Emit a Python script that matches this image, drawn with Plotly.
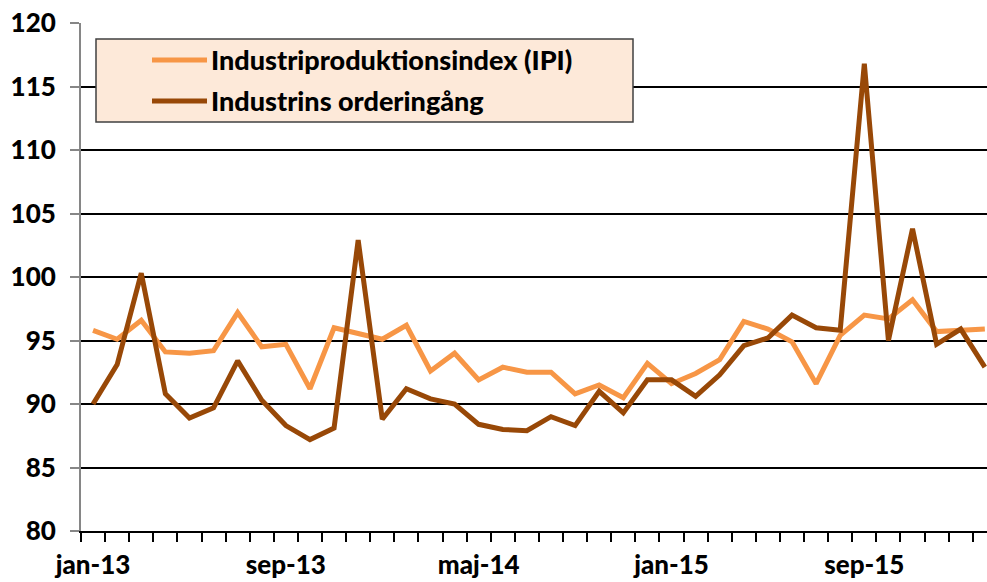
import plotly.graph_objects as go

months = [
    "jan-13", "feb-13", "mar-13", "apr-13", "maj-13", "jun-13", "jul-13", "aug-13", "sep-13", "okt-13", "nov-13", "dec-13",
    "jan-14", "feb-14", "mar-14", "apr-14", "maj-14", "jun-14", "jul-14", "aug-14", "sep-14", "okt-14", "nov-14", "dec-14",
    "jan-15", "feb-15", "mar-15", "apr-15", "maj-15", "jun-15", "jul-15", "aug-15", "sep-15", "okt-15", "nov-15", "dec-15",
    "jan-16", "feb-16",
]
shown_labels = ["jan-13", "sep-13", "maj-14", "jan-15", "sep-15"]

ipi = [
    95.8, 95.1, 96.6, 94.1, 94.0, 94.2, 97.2, 94.5, 94.7, 91.2, 96.0, 95.6,
    95.1, 96.2, 92.6, 94.0, 91.9, 92.9, 92.5, 92.5, 90.8, 91.5, 90.5, 93.2,
    91.6, 92.4, 93.5, 96.5, 95.9, 94.9, 91.6, 95.4, 97.0, 96.7, 98.2, 95.7,
    95.8, 95.9,
]
orders = [
    90.0, 93.1, 100.3, 90.8, 88.9, 89.7, 93.4, 90.3, 88.3, 87.2, 88.1, 102.9,
    88.8, 91.2, 90.4, 90.0, 88.4, 88.0, 87.9, 89.0, 88.3, 91.0, 89.3, 91.9,
    91.9, 90.6, 92.3, 94.6, 95.2, 97.0, 96.0, 95.8, 116.8, 95.0, 103.8, 94.7,
    95.9, 92.9,
]
series_names = ["Industriproduktionsindex (IPI)", "Industrins orderingång"]
series_colors = ["#F79646", "#984807"]

FONT = "Lato"
W, H = 987, 582
L, R, T, B = 81, 0, 23, 51
PW, PH = W - L - R, H - T - B


def px(x):
    return (x - L) / PW


def py(y):
    return (H - B - y) / PH


fig = go.Figure()
for name, vals, col in zip(series_names, [ipi, orders], series_colors):
    fig.add_trace(go.Scatter(
        x=months, y=vals, mode="lines", name=name,
        line=dict(color=col, width=5), showlegend=False,
    ))

ticktext = [m if m in shown_labels else "" for m in months]

fig.update_layout(
    width=W, height=H,
    margin=dict(l=L, r=R, t=T, b=B, pad=0, autoexpand=False),
    paper_bgcolor="white", plot_bgcolor="white",
    font=dict(family=FONT, size=25, color="black"),
    xaxis=dict(
        type="category", categoryorder="array", categoryarray=months,
        range=[-0.5, 37.09], automargin=False,
        tickmode="array", tickvals=months, ticktext=ticktext, tickangle=0,
        tickson="boundaries", ticks="outside", ticklen=9, tickwidth=1.5, tickcolor="black",
        showline=True, linecolor="black", linewidth=1.5,
        showgrid=False, zeroline=False,
        tickfont=dict(family=FONT, size=26, color="black", weight=900),
        ticklabelstandoff=10, ticklabeloverflow="allow",
    ),
    yaxis=dict(
        range=[80, 120], dtick=5, tick0=80, automargin=False,
        ticks="outside", ticklen=9, tickwidth=1.5, tickcolor="#868686",
        showline=True, linecolor="#868686", linewidth=2,
        showgrid=True, gridcolor="black", gridwidth=1.5,
        zeroline=False,
        tickfont=dict(family=FONT, size=26, color="black", weight=900),
        ticklabelstandoff=9, ticklabeloverflow="allow",
    ),
)

# legend box drawn manually to match the original placement
fig.add_shape(type="rect", xref="paper", yref="paper",
              x0=px(96), x1=px(633), y0=py(122), y1=py(39),
              fillcolor="#FDE9D9", line=dict(color="#404040", width=1.5), layer="above")
for i, (name, col) in enumerate(zip(series_names, series_colors)):
    yc = 60 + i * 41
    fig.add_shape(type="line", xref="paper", yref="paper",
                  x0=px(152), x1=px(207), y0=py(yc), y1=py(yc),
                  line=dict(color=col, width=5), layer="above")
    fig.add_annotation(xref="paper", yref="paper", x=px(209), y=py(yc),
                       xanchor="left", yanchor="middle", showarrow=False,
                       text=name, font=dict(family=FONT, size=27, color="black", weight=900))

fig.write_html("out.html", config={"displayModeBar": False},
               post_script="document.body.style.margin='0';")
